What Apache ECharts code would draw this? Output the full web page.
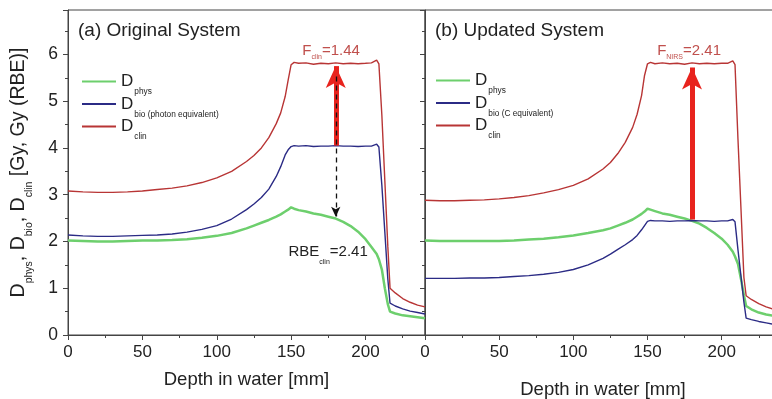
<!DOCTYPE html>
<html><head><meta charset="utf-8">
<script src="https://cdn.jsdelivr.net/npm/echarts@6/dist/echarts.min.js"></script>
<style>html,body{margin:0;padding:0;background:#fff}#c{width:772px;height:399px}</style>
</head><body><div id="c"></div>
<script>
// Depth grid (mm), shared by all curves
const depth = [0,10,20,30,40,50,60,70,80,90,100,110,120,125,130,135,140,143,146,148,150,152,155,160,165,170,175,180,185,190,195,200,204,207.5,209,211,213,215,216.5,220,225,230,235,240];

// (a) Original system
const physA = [2.02,2.01,2.00,2.00,2.01,2.02,2.02,2.03,2.05,2.08,2.12,2.18,2.28,2.34,2.40,2.46,2.53,2.58,2.64,2.68,2.73,2.70,2.67,2.64,2.60,2.57,2.53,2.49,2.42,2.33,2.21,2.05,1.88,1.73,1.62,1.40,1.00,0.66,0.50,0.46,0.42,0.40,0.38,0.36];
const bioA  = [2.14,2.12,2.11,2.11,2.12,2.13,2.14,2.16,2.20,2.26,2.34,2.48,2.68,2.80,2.94,3.12,3.39,3.60,3.85,3.96,4.03,4.05,4.04,4.05,4.03,4.04,4.04,4.05,4.04,4.04,4.03,4.04,4.04,4.08,4.02,3.20,2.20,1.20,0.68,0.62,0.56,0.51,0.48,0.45];
const clinA = [3.08,3.06,3.05,3.05,3.06,3.08,3.11,3.14,3.19,3.26,3.36,3.50,3.71,3.84,4.00,4.22,4.52,4.75,5.10,5.45,5.78,5.83,5.81,5.82,5.79,5.81,5.80,5.82,5.80,5.81,5.80,5.81,5.82,5.88,5.80,4.70,3.30,1.90,1.00,0.90,0.78,0.70,0.64,0.60];

// (b) Updated system
const physB = [2.02,2.01,2.01,2.01,2.01,2.01,2.02,2.04,2.06,2.09,2.13,2.18,2.24,2.28,2.34,2.40,2.47,2.53,2.59,2.64,2.70,2.68,2.65,2.60,2.57,2.53,2.49,2.44,2.38,2.29,2.18,2.06,1.93,1.78,1.68,1.52,1.20,0.85,0.62,0.55,0.48,0.44,0.41,0.38];
const bioB  = [1.21,1.21,1.21,1.22,1.22,1.23,1.25,1.27,1.30,1.34,1.40,1.50,1.64,1.73,1.83,1.93,2.04,2.13,2.25,2.34,2.43,2.45,2.44,2.44,2.43,2.44,2.44,2.45,2.44,2.44,2.43,2.44,2.44,2.47,2.42,1.82,1.26,0.70,0.36,0.33,0.29,0.26,0.23,0.21];
const clinB = [2.88,2.87,2.87,2.88,2.89,2.91,2.94,2.98,3.04,3.11,3.20,3.34,3.55,3.69,3.88,4.12,4.44,4.72,5.12,5.55,5.80,5.83,5.80,5.82,5.80,5.81,5.79,5.82,5.80,5.81,5.80,5.81,5.81,5.86,5.78,4.18,2.71,1.23,0.84,0.76,0.67,0.60,0.55,0.51];

// Annotation arrows (data coordinates, arrow tip at second point)
const arrowA = [[180, 4.05], [180, 5.75]];
const dashA  = [[180, 5.53], [180, 2.53]];
const arrowB = [[180, 2.47], [180, 5.72]];

// Texts
const panelTitles = ['(a) Original System', '(b) Updated System'];
const xName = 'Depth in water [mm]';
const yName = '{m|D}{s|phys}{m|, D}{s|bio}{m|, D}{s|clin}{m| [Gy, Gy (RBE)]}';
const legendText = {
  physA: '{m|D}{s|phys}', bioA: '{m|D}{s|bio (photon equivalent)}', clinA: '{m|D}{s|clin}',
  physB: '{m|D}{s|phys}', bioB: '{m|D}{s|bio (C equivalent)}', clinB: '{m|D}{s|clin}'
};
const annFclin = { pos: [157.5, 6.07], text: '{f|F}{s|clin}{f|=1.44}' };
const annRBE   = { pos: [148.2, 1.77], text: '{f|RBE}{s|clin}{f|=2.41}' };
const annFnirs = { pos: [156.5, 6.08], text: '{f|F}{s|NIRS}{f|=2.41}' };

const FONT = '"Liberation Sans", Arial, sans-serif';
const GREEN = '#6dcf6d', BLUE = '#2b2b85', RED = '#b83535', ARROW = '#e8231d', AXIS = '#444', TXT = '#222';

const pairs = arr => depth.map((d, i) => [d, arr[i]]);

function xMain(g, gap) {
  return { type: 'value', gridIndex: g, min: 0, max: 240, interval: 50, position: 'bottom',
    name: xName, nameLocation: 'middle', nameGap: gap,
    nameTextStyle: { fontSize: 18.5, color: TXT, fontFamily: FONT },
    axisLine: { show: true, onZero: false, lineStyle: { color: AXIS, width: 1 } },
    axisTick: { show: true, inside: false, length: 5, lineStyle: { color: AXIS } },
    axisLabel: { show: true, fontSize: 17, color: TXT, margin: 9, fontFamily: FONT, showMaxLabel: false },
    splitLine: { show: false } };
}
function xMinor(g) {
  return { type: 'value', gridIndex: g, min: 0, max: 240, interval: 25, position: 'bottom',
    axisLine: { show: false, onZero: false },
    axisTick: { show: true, inside: false, length: 3, lineStyle: { color: AXIS } },
    axisLabel: { show: false }, splitLine: { show: false } };
}
function yAxis(g, labels) {
  const o = { type: 'value', gridIndex: g, min: 0, max: 6.95, interval: 1, position: 'left',
    axisLine: { show: true, onZero: false, lineStyle: { color: AXIS, width: 1 } },
    axisTick: { show: true, inside: false, length: 5, lineStyle: { color: AXIS } },
    minorTick: { show: true, splitNumber: 2, length: 3, lineStyle: { color: AXIS } },
    axisLabel: { show: labels, fontSize: 17.5, color: TXT, margin: 10, fontFamily: FONT, showMaxLabel: false },
    splitLine: { show: false }, minorSplitLine: { show: false } };
  if (labels) {
    o.name = yName; o.nameLocation = 'middle'; o.nameGap = 33;
    o.nameTextStyle = { color: TXT, fontFamily: FONT, rich: {
      m: { fontSize: 19.5, color: TXT, fontFamily: FONT },
      s: { fontSize: 10.5, color: TXT, fontFamily: FONT, padding: [22, 0, 0, 0] } } };
  }
  return o;
}
function line(name, data, color, width, xi, yi, extra) {
  return Object.assign({ name, type: 'line', xAxisIndex: xi, yAxisIndex: yi, data: pairs(data),
    symbol: 'none', showSymbol: false, color, lineStyle: { color, width }, animation: false, z: 3 }, extra || {});
}
function legend(names, left, top) {
  return { data: names, left, top, padding: 0, orient: 'vertical', itemWidth: 34, itemHeight: 14, itemGap: -0.5,
    selectedMode: false, formatter: n => legendText[n], itemStyle: { opacity: 0 },
    textStyle: { fontFamily: FONT, color: TXT, rich: {
      m: { fontSize: 17, color: TXT, fontFamily: FONT },
      s: { fontSize: 8.3, color: TXT, fontFamily: FONT, padding: [21, 0, 0, 1] } } } };
}
function annot(a, color, subPad) {
  return { symbol: 'circle', symbolSize: 0, silent: true, animation: false,
    data: [{ coord: a.pos, label: { show: true, position: 'right', distance: 0, formatter: a.text,
      rich: {
        f: { fontSize: 15, color, fontFamily: FONT },
        s: { fontSize: 7, color, fontFamily: FONT, padding: [subPad, 0, 0, 0] } } } }] };
}
function arrowLine(p, color, width, type, size, z) {
  return { silent: true, animation: false, z, symbol: ['none', 'arrow'], symbolSize: size,
    label: { show: false }, lineStyle: { color, width, type, opacity: 1 },
    emphasis: { disabled: true },
    data: [[{ coord: p[0] }, { coord: p[1] }]] };
}

const chart = echarts.init(document.getElementById('c'), null, { renderer: 'canvas' });
chart.setOption({
  animation: false,
  backgroundColor: '#fff',
  title: [
    { text: panelTitles[0], left: 78, top: 21, padding: 0, textStyle: { fontSize: 19, fontWeight: 'normal', color: TXT, fontFamily: FONT } },
    { text: panelTitles[1], left: 435, top: 21, padding: 0, textStyle: { fontSize: 19, fontWeight: 'normal', color: TXT, fontFamily: FONT } }
  ],
  legend: [legend(['physA', 'bioA', 'clinA'], 81, 73), legend(['physB', 'bioB', 'clinB'], 435, 72)],
  grid: [
    { left: 68, top: 10, width: 357, height: 325, show: true, borderColor: AXIS, borderWidth: 1, backgroundColor: 'transparent', containLabel: false, outerBoundsMode: 'none' },
    { left: 425, top: 10, width: 356, height: 325, show: true, borderColor: AXIS, borderWidth: 1, backgroundColor: 'transparent', containLabel: false, outerBoundsMode: 'none' }
  ],
  xAxis: [xMain(0, 35), xMinor(0), xMain(1, 45), xMinor(1)],
  yAxis: [yAxis(0, true), yAxis(1, false)],
  series: [
    line('physA', physA, GREEN, 2.5, 0, 0, { markPoint: annot(annRBE, TXT, 19), markLine: arrowLine(dashA, '#111', 1.3, [5, 4], [7, 10], 7) }),
    line('bioA', bioA, BLUE, 1.4, 0, 0),
    line('clinA', clinA, RED, 1.4, 0, 0, { markPoint: annot(annFclin, '#c0504d', 12), markLine: arrowLine(arrowA, ARROW, 5, 'solid', [15, 22], 6) }),
    line('physB', physB, GREEN, 2.5, 2, 1),
    line('bioB', bioB, BLUE, 1.4, 2, 1),
    line('clinB', clinB, RED, 1.4, 2, 1, { markPoint: annot(annFnirs, '#c0504d', 12), markLine: arrowLine(arrowB, ARROW, 5, 'solid', [15, 22], 6) })
  ]
});
</script>
</body></html>
